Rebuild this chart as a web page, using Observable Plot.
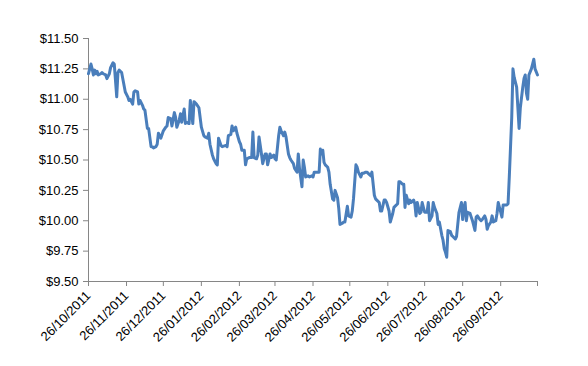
<!DOCTYPE html>
<html>
<head>
<meta charset="utf-8">
<script src="https://cdn.jsdelivr.net/npm/d3@7"></script>
<script src="https://cdn.jsdelivr.net/npm/@observablehq/plot@0.6"></script>
<style>
  html, body { margin: 0; padding: 0; background: #ffffff; }
  #chart { width: 588px; height: 366px; }
</style>
</head>
<body>
<div id="chart"></div>
<script>
const dates = [
"2011-10-26","2011-10-28","2011-10-29","2011-10-30","2011-10-31","2011-11-01","2011-11-02","2011-11-03","2011-11-05","2011-11-06",
"2011-11-07","2011-11-09","2011-11-10","2011-11-12","2011-11-13","2011-11-15","2011-11-16","2011-11-18","2011-11-19","2011-11-20",
"2011-11-22","2011-11-25","2011-11-27","2011-11-28","2011-11-29","2011-12-01","2011-12-02","2011-12-03","2011-12-05","2011-12-06",
"2011-12-07","2011-12-09","2011-12-10","2011-12-11","2011-12-13","2011-12-14","2011-12-16","2011-12-17","2011-12-18","2011-12-20",
"2011-12-21","2011-12-22","2011-12-24","2011-12-26","2011-12-28","2011-12-29","2011-12-30","2012-01-01","2012-01-02","2012-01-04",
"2012-01-05","2012-01-06","2012-01-08","2012-01-09","2012-01-10","2012-01-12","2012-01-13","2012-01-14","2012-01-16","2012-01-17",
"2012-01-19","2012-01-20","2012-01-22","2012-01-24","2012-01-26","2012-01-28","2012-01-29","2012-01-31","2012-02-01","2012-02-02",
"2012-02-04","2012-02-05","2012-02-07","2012-02-08","2012-02-09","2012-02-11","2012-02-12","2012-02-15","2012-02-16","2012-02-17",
"2012-02-19","2012-02-20","2012-02-21","2012-02-23","2012-02-24","2012-02-26","2012-02-27","2012-02-28","2012-03-01","2012-03-02",
"2012-03-03","2012-03-05","2012-03-07","2012-03-08","2012-03-09","2012-03-11","2012-03-12","2012-03-13","2012-03-15","2012-03-16",
"2012-03-18","2012-03-19","2012-03-20","2012-03-22","2012-03-23","2012-03-25","2012-03-26","2012-03-27","2012-03-29","2012-03-30",
"2012-03-31","2012-04-02","2012-04-03","2012-04-04","2012-04-06","2012-04-07","2012-04-08","2012-04-10","2012-04-11","2012-04-13",
"2012-04-14","2012-04-15","2012-04-17","2012-04-18","2012-04-19","2012-04-20","2012-04-22","2012-04-23","2012-04-25","2012-04-26",
"2012-04-27","2012-04-28","2012-04-29","2012-05-01","2012-05-02","2012-05-03","2012-05-04","2012-05-05","2012-05-06","2012-05-08",
"2012-05-09","2012-05-10","2012-05-12","2012-05-13","2012-05-14","2012-05-16","2012-05-17","2012-05-18","2012-05-20","2012-05-21",
"2012-05-22","2012-05-24","2012-05-25","2012-05-27","2012-05-28","2012-05-29","2012-05-31","2012-06-01","2012-06-02","2012-06-04",
"2012-06-05","2012-06-06","2012-06-08","2012-06-09","2012-06-10","2012-06-12","2012-06-13","2012-06-15","2012-06-16","2012-06-17",
"2012-06-19","2012-06-20","2012-06-21","2012-06-23","2012-06-24","2012-06-25","2012-06-27","2012-06-28","2012-06-30","2012-07-01",
"2012-07-02","2012-07-04","2012-07-05","2012-07-06","2012-07-08","2012-07-09","2012-07-10","2012-07-11","2012-07-13","2012-07-14",
"2012-07-15","2012-07-17","2012-07-18","2012-07-19","2012-07-20","2012-07-22","2012-07-23","2012-07-24","2012-07-26","2012-07-28",
"2012-07-29","2012-07-30","2012-08-01","2012-08-02","2012-08-03","2012-08-05","2012-08-06","2012-08-07","2012-08-09","2012-08-10",
"2012-08-11","2012-08-12","2012-08-13","2012-08-14","2012-08-16","2012-08-17","2012-08-18","2012-08-20","2012-08-21","2012-08-22",
"2012-08-23","2012-08-25","2012-08-26","2012-08-27","2012-08-28","2012-08-29","2012-08-30","2012-09-01","2012-09-02","2012-09-03",
"2012-09-05","2012-09-06","2012-09-07","2012-09-09","2012-09-10","2012-09-11","2012-09-13","2012-09-14","2012-09-15","2012-09-16",
"2012-09-18","2012-09-19","2012-09-20","2012-09-22","2012-09-23","2012-09-24","2012-09-26","2012-09-27","2012-09-28","2012-09-29",
"2012-10-01","2012-10-02","2012-10-03","2012-10-05","2012-10-06","2012-10-07","2012-10-09","2012-10-10","2012-10-11","2012-10-12",
"2012-10-14","2012-10-15","2012-10-16","2012-10-17","2012-10-18","2012-10-19","2012-10-21","2012-10-22","2012-10-23","2012-10-24",
"2012-10-26"
];

const prices = [
11.21,11.29,11.25,11.20,11.24,11.21,11.23,11.20,11.21,11.22,
11.21,11.20,11.17,11.21,11.26,11.30,11.29,11.02,11.22,11.24,
11.22,11.06,11.02,10.99,11.00,10.96,11.06,11.07,11.06,10.96,
10.99,10.95,10.92,10.91,10.76,10.76,10.61,10.61,10.60,10.61,
10.63,10.72,10.68,10.74,10.77,10.78,10.85,10.84,10.78,10.89,
10.85,10.77,10.83,10.88,10.81,10.92,10.80,10.81,10.80,10.99,
10.80,10.98,10.96,10.93,10.77,10.70,10.69,10.68,10.72,10.63,
10.54,10.51,10.47,10.46,10.68,10.62,10.61,10.62,10.61,10.70,
10.71,10.78,10.74,10.77,10.72,10.65,10.63,10.58,10.58,10.46,
10.51,10.52,10.52,10.73,10.52,10.51,10.54,10.69,10.55,10.47,
10.55,10.55,10.46,10.55,10.52,10.54,10.51,10.50,10.70,10.77,
10.74,10.70,10.73,10.69,10.55,10.52,10.50,10.47,10.43,10.40,
10.55,10.43,10.28,10.50,10.44,10.36,10.37,10.36,10.37,10.36,
10.40,10.40,10.40,10.40,10.59,10.55,10.58,10.48,10.46,10.44,
10.40,10.30,10.18,10.17,10.25,10.19,10.10,9.97,9.98,9.99,
9.99,10.12,10.04,10.03,10.08,10.18,10.46,10.44,10.40,10.36,
10.39,10.39,10.40,10.40,10.39,10.37,10.40,10.21,10.18,10.17,
10.15,10.08,10.08,10.17,10.17,10.15,10.08,9.99,10.06,10.11,
10.12,10.14,10.32,10.32,10.30,10.30,10.11,10.21,10.14,10.17,
10.15,10.17,10.14,10.04,10.15,10.06,10.07,10.15,10.07,10.07,
10.15,10.00,10.04,10.15,10.11,10.06,9.97,9.99,9.88,9.84,
9.77,9.74,9.70,9.92,9.91,9.88,9.87,9.85,9.87,9.97,
10.07,10.15,10.01,10.11,10.15,10.00,10.07,10.06,10.03,10.00,
9.92,10.03,10.04,10.01,10.00,10.01,10.04,10.01,9.93,9.96,
9.99,10.04,9.99,10.00,10.06,10.15,10.07,10.03,10.13,10.13,
10.13,10.14,10.36,10.85,11.25,11.18,11.10,10.93,10.76,10.93,
11.10,11.17,11.20,11.05,11.00,11.20,11.25,11.29,11.33,11.25,
11.20
];

const yTicks = [9.5, 9.75, 10, 10.25, 10.5, 10.75, 11, 11.25, 11.5];

const xTickDates = ["2011-10-26","2011-11-26","2011-12-26","2012-01-26","2012-02-26","2012-03-26",
  "2012-04-26","2012-05-26","2012-06-26","2012-07-26","2012-08-26","2012-09-26","2012-10-26"];
const xTickLabels = ["26/10/2011","26/11/2011","26/12/2011","26/01/2012","26/02/2012","26/03/2012",
  "26/04/2012","26/05/2012","26/06/2012","26/07/2012","26/08/2012","26/09/2012",""];

const data = dates.map((d, i) => ({date: new Date(d), price: prices[i]}));
const tickDates = xTickDates.map(d => new Date(d));
const labelOf = new Map(tickDates.map((d, i) => [+d, xTickLabels[i]]));

const chart = Plot.plot({
  width: 588,
  height: 366,
  marginLeft: 88,
  marginRight: 51,
  marginTop: 38,
  marginBottom: 85,
  style: {fontFamily: "'Liberation Sans', Arial, sans-serif", fontSize: "13px", color: "#000", background: "#fff"},
  x: {type: "utc", domain: [tickDates[0], tickDates[tickDates.length - 1]]},
  y: {domain: [9.5, 11.5]},
  marks: [
    Plot.axisY(yTicks, {tickSize: 5, tickPadding: 5, stroke: "#868686", fill: "#000",
      tickFormat: d => "$" + d.toFixed(2), label: null}),
    Plot.axisX(tickDates, {tickSize: 5, tickPadding: 7, tickRotate: -45, stroke: "#868686", fill: "#000",
      tickFormat: d => labelOf.get(+d), label: null}),
    Plot.ruleX([tickDates[0]], {stroke: "#868686"}),
    Plot.ruleY([9.5], {stroke: "#868686"}),
    Plot.line(data, {x: "date", y: "price", stroke: "#4A7EBB", strokeWidth: 3, strokeLinejoin: "round", strokeLinecap: "round"})
  ]
});
document.getElementById("chart").appendChild(chart);
</script>
</body>
</html>
